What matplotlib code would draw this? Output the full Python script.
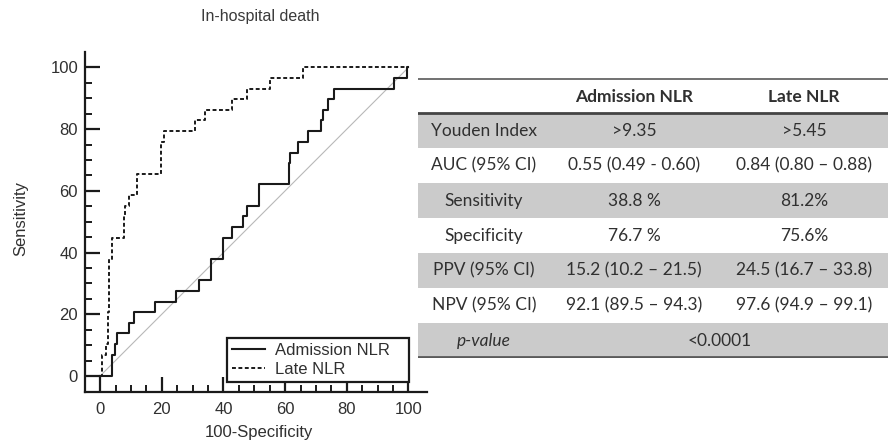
import numpy as np
import matplotlib
matplotlib.use("Agg")
from matplotlib import pyplot as plt
from matplotlib.ticker import FixedLocator

# ROC staircase points (100-Specificity, Sensitivity), in %
adm_fpr = [0, 3.8, 4.9, 5.6, 9.5, 11.0, 17.8, 24.7, 32.2, 35.9, 39.8, 42.8, 46.3,
           47.6, 51.4, 61.1, 61.5, 64.1, 67.3, 71.6, 72.3, 73.8, 75.8, 95.2, 99.4, 100]
adm_tpr = [0, 6.9, 10.3, 13.8, 17.2, 20.7, 24.1, 27.6, 31.0, 37.9, 44.8, 48.3, 51.7,
           55.2, 62.1, 69.0, 72.4, 75.9, 79.3, 82.8, 86.2, 89.7, 93.1, 96.6, 100, 100]

late_fpr = [0, 0.5, 1.9, 2.4, 3.0, 3.8, 7.6, 8.1, 9.5, 11.9, 19.8, 20.6, 30.8,
            34.1, 42.8, 47.6, 55.0, 65.8, 100]
late_tpr = [0, 6.9, 10.3, 20.7, 37.9, 44.8, 51.7, 55.2, 58.6, 65.5, 75.9, 79.3, 82.8,
            86.2, 89.7, 93.1, 96.6, 100, 100]

# summary table
col_heads = ["", "Admission NLR", "Late NLR"]
row_names = ["Youden Index", "AUC (95% CI)", "Sensitivity", "Specificity",
             "PPV (95% CI)", "NPV (95% CI)"]
adm_vals = [">9.35", "0.55 (0.49 - 0.60)", "38.8 %", "76.7 %",
            "15.2 (10.2 \u2013 21.5)", "92.1 (89.5 \u2013 94.3)"]
late_vals = [">5.45", "0.84 (0.80 \u2013 0.88)", "81.2%", "75.6%",
             "24.5 (16.7 \u2013 33.8)", "97.6 (94.9 \u2013 99.1)"]
p_value = "<0.0001"

txt = "#303030"
plt.rcParams['font.family'] = ['Liberation Sans', 'DejaVu Sans']

fig = plt.figure(figsize=(8.88, 4.44), dpi=100)
ax = fig.add_axes([85/888, 52/444, 342/888, 340/444])

ax.plot([0, 100], [0, 100], color="#b8b8b8", lw=0.8)
ax.plot(adm_fpr, adm_tpr, drawstyle="steps-post", color="#1a1a1a", lw=1.5,
        label="Admission NLR")
ax.plot(late_fpr, late_tpr, drawstyle="steps-post", color="#1a1a1a", lw=1.4,
        ls=(0, (2, 1.3)), label="Late NLR")

ax.set_xlim(-4.9, 106)
ax.set_ylim(-5.2, 105)
for s in ["top", "right"]:
    ax.spines[s].set_visible(False)
for s in ["left", "bottom"]:
    ax.spines[s].set_linewidth(1.6)
    ax.spines[s].set_color("#1a1a1a")

ticks = np.arange(0, 101, 20)
ax.xaxis.set_major_locator(FixedLocator(ticks))
ax.yaxis.set_major_locator(FixedLocator(ticks))
ax.xaxis.set_minor_locator(FixedLocator(np.arange(0, 101, 5)))
ax.yaxis.set_minor_locator(FixedLocator(np.arange(0, 101, 5)))
ax.tick_params(which="major", direction="in", length=10.5, width=1.6,
               labelsize=12, labelcolor=txt, color="#1a1a1a")
ax.tick_params(which="minor", direction="in", length=5, width=1.4, color="#1a1a1a")
ax.tick_params(axis="y", which="major", pad=5)
ax.tick_params(axis="x", which="major", pad=7)

leg = ax.legend(loc="lower left", bbox_to_anchor=(0.415, 0.029, 0.532, 0.147),
                mode="expand", borderaxespad=0, fontsize=12, fancybox=False,
                handlelength=2.0, handletextpad=0.6, labelspacing=0.25,
                borderpad=0.3, framealpha=1)
leg.get_frame().set_edgecolor("#1a1a1a")
leg.get_frame().set_linewidth(1.6)
for t in leg.get_texts():
    t.set_color(txt)

fig.text(260/888, 1 - 16/444, "In-hospital death", ha="center", va="center",
         fontsize=11.5, color="#3a3a3a")
fig.text(21/888, 1 - 218/444, "Sensitivity", rotation=90, ha="center",
         va="center", fontsize=12, color=txt)
fig.text(259/888, 1 - 432/444, "100-Specificity", ha="center", va="center",
         fontsize=12, color=txt)

# table on the right, coordinates in pixels from its top-left corner
tb = fig.add_axes([418/888, (444 - 358)/444, 470/888, 280/444])
tb.set_xlim(0, 470)
tb.set_ylim(280, 0)
tb.axis("off")
rh = 35
col_x = [66, 216, 386]
tfont = ['Lato', 'DejaVu Sans']
grey = "#cbcbcb"

for i in range(1, 8):
    if i % 2 == 1:
        tb.fill_between([0, 470], i*rh, (i+1)*rh, color=grey, lw=0)

tb.plot([0, 470], [0.8, 0.8], color="#666666", lw=1.3)
tb.plot([0, 470], [rh, rh], color="#444444", lw=2)
tb.plot([0, 470], [8*rh - 1, 8*rh - 1], color="#5a5a5a", lw=2)

for x, h in zip(col_x, col_heads):
    tb.text(x, rh/2 + 1, h, ha="center", va="center", fontsize=12.5,
            fontweight="bold", family=tfont, color=txt)

for i, (name, a, b) in enumerate(zip(row_names, adm_vals, late_vals)):
    yc = (i + 1.5)*rh
    tb.text(col_x[0], yc, name, ha="center", va="center", fontsize=12.5,
            family=tfont, color=txt)
    tb.text(col_x[1], yc, a, ha="center", va="center", fontsize=12.5,
            family=tfont, color=txt)
    tb.text(col_x[2], yc, b, ha="center", va="center", fontsize=12.5,
            family=tfont, color=txt)

tb.text(col_x[0], 7.5*rh, "p-value", ha="center", va="center", fontsize=12.5,
        style="italic", family=tfont, color=txt)
tb.text(302, 7.5*rh, p_value, ha="center", va="center", fontsize=12.5,
        family=tfont, color=txt)

fig.savefig("out.png", dpi=100)
